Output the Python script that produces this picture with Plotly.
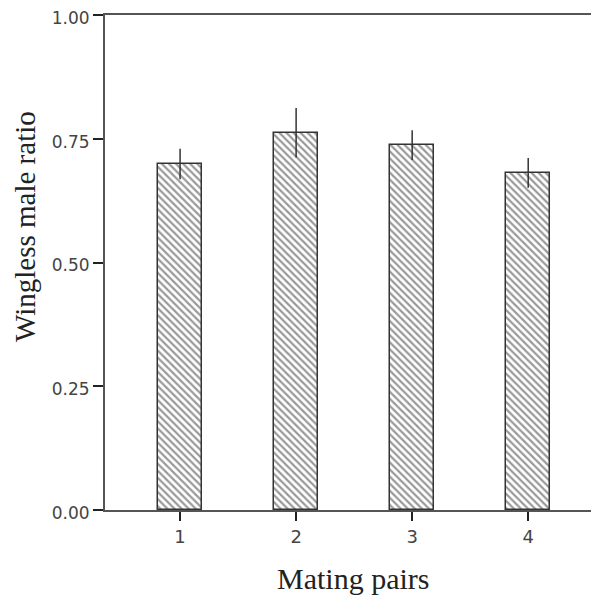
import plotly.graph_objects as go

pairs = [1, 2, 3, 4]
ratio = [0.699, 0.762, 0.737, 0.681]
err = [0.031, 0.050, 0.030, 0.030]
tick_vals = [0, 0.25, 0.5, 0.75, 1.0]
tick_text = ["0.00", "0.25", "0.50", "0.75", "1.00"]

fig = go.Figure()
fig.add_trace(go.Bar(
    x=pairs, y=ratio, width=0.38,
    marker=dict(color="white", line=dict(color="#333333", width=1.5),
                pattern=dict(shape="\\", fgcolor="#333333", bgcolor="white", size=5, solidity=0.45)),
    error_y=dict(type="data", array=err, visible=True, width=0, thickness=1.5, color="#333333"),
))

# page body has an 8px default margin; compensate so the plot lands where the reference has it
W, H = 591, 588
L, T, B = 97, 7, 86
pw, ph = W - L, H - T - B

fig.update_layout(
    width=W, height=H,
    margin=dict(l=L, r=0, t=T, b=B, autoexpand=False),
    plot_bgcolor="white", paper_bgcolor="white",
    showlegend=False,
    bargap=0,
)
fig.update_xaxes(
    range=[0.353, 4.61], tickvals=pairs, ticktext=[str(p) for p in pairs],
    showline=True, linecolor="#555555", linewidth=2, mirror=True,
    ticks="outside", ticklen=9, tickwidth=2, tickcolor="#222222",
    tickfont=dict(family="DejaVu Sans", size=18, color="#444444"),
    showgrid=False, zeroline=False, automargin=False,
)
fig.update_yaxes(
    range=[0, 1.0], tickvals=tick_vals, ticktext=tick_text,
    showline=True, linecolor="#555555", linewidth=2,
    ticks="outside", ticklen=10, tickwidth=2, tickcolor="#222222",
    tickfont=dict(family="DejaVu Sans", size=17, color="#444444"),
    ticklabeloverflow="allow", ticklabelshift=3,
    showgrid=False, zeroline=False, automargin=False,
)
fig.add_annotation(text="Mating pairs", xref="paper", yref="paper",
                   x=0.5 + (353 - 8 - L - pw / 2) / pw,
                   y=-68 / ph, xanchor="center", yanchor="middle", showarrow=False,
                   font=dict(family="Liberation Serif", size=30, color="#222222"))
fig.add_annotation(text="Wingless male ratio", xref="paper", yref="paper",
                   x=-80 / pw, y=1 - 212 / ph, xanchor="center", yanchor="middle",
                   textangle=-90, showarrow=False,
                   font=dict(family="Liberation Serif", size=29, color="#222222"))
fig.write_html("out.html")
